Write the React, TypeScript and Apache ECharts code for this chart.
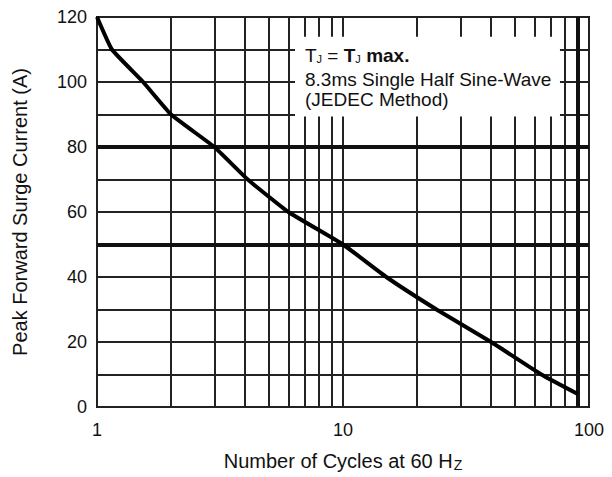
import React, { useEffect, useRef } from "react";
import * as echarts from "echarts";

// Curve (cycles at 60 Hz -> peak forward surge current, A)
const cycles = [1, 1.15, 1.54, 2, 3, 4.1, 6, 10, 15, 24, 40, 64, 90];
const current = [120, 110, 100, 90, 80, 70, 60, 50, 40, 30, 20, 10, 4];

// Grid lines
const minorX = [2, 3, 4, 5, 6, 7, 8, 9, 20, 30, 40, 50, 60, 70, 80];
const thickX = [90];
const thickY = [80, 50];

// Axis settings
const yMin = 0;
const yMax = 120;
const yStep = 10;
const yLabelStep = 20;
const xMin = 1;
const xMax = 100;

// Notes box (data coordinates)
const boxX = [6.38, 76.2];
const boxY = [89.4, 113.9];

const FONT = "'Liberation Sans', Arial, Helvetica, sans-serif";
const INK = "#111";

export default function App() {
  const ref = useRef<HTMLDivElement>(null);
  useEffect(() => {
    document.body.style.margin = "0";
    const chart = echarts.init(ref.current!, null, { renderer: "svg" });
    const gridLine = { color: "#222", width: 2, type: "solid" as const };
    const thickLine = { color: "#111", width: 4, type: "solid" as const };
    chart.setOption({
      animation: false,
      backgroundColor: "#ffffff",
      grid: {
        left: 97,
        right: 23,
        top: 17,
        bottom: 64,
        show: true,
        borderColor: INK,
        borderWidth: 2,
        containLabel: false,
      },
      xAxis: {
        type: "log",
        logBase: 10,
        min: xMin,
        max: xMax,
        name: "Number of Cycles at 60 H{s|Z}",
        nameLocation: "middle",
        nameGap: 43,
        nameTextStyle: {
          fontFamily: FONT,
          fontSize: 20,
          color: INK,
          rich: {
            s: { fontFamily: FONT, fontSize: 14, color: INK, padding: [8, 0, 0, 1] },
          },
        },
        axisLine: { show: false },
        axisTick: { show: false },
        axisLabel: { fontFamily: FONT, fontSize: 18, color: INK, margin: 14 },
        splitLine: { show: true, lineStyle: gridLine },
        minorTick: { show: false },
        minorSplitLine: { show: false },
      },
      yAxis: {
        type: "value",
        min: yMin,
        max: yMax,
        interval: yStep,
        name: "Peak Forward Surge Current (A)",
        nameLocation: "middle",
        nameGap: 67,
        nameRotate: 90,
        nameTextStyle: { fontFamily: FONT, fontSize: 20, color: INK },
        axisLine: { show: false },
        axisTick: { show: false },
        axisLabel: {
          fontFamily: FONT,
          fontSize: 18,
          color: INK,
          margin: 10,
          formatter: (v: number) => (v % yLabelStep === 0 ? String(v) : ""),
        },
        splitLine: { show: true, lineStyle: gridLine },
      },
      series: [
        {
          name: "grid",
          type: "line",
          z: 1,
          silent: true,
          data: [],
          markLine: {
            z: 1,
            silent: true,
            symbol: ["none", "none"],
            label: { show: false },
            animation: false,
            data: [
              ...minorX.map((x) => ({ xAxis: x, lineStyle: gridLine })),
              ...thickX.map((x) => ({ xAxis: x, lineStyle: thickLine })),
              ...thickY.map((y) => ({ yAxis: y, lineStyle: thickLine })),
            ],
          },
        },
        {
          name: "IFSM",
          type: "line",
          z: 5,
          data: cycles.map((c, i) => [c, current[i]]),
          showSymbol: false,
          symbol: "none",
          smooth: 0.12,
          lineStyle: { color: "#000", width: 4 },
          markArea: {
            z: 3,
            silent: true,
            animation: false,
            itemStyle: { color: "#ffffff", opacity: 1, borderWidth: 0 },
            label: { show: false },
            data: [[{ coord: [boxX[0], boxY[1]] }, { coord: [boxX[1], boxY[0]] }]],
          },
        },
      ],
    });

    const p1 = chart.convertToPixel({ gridIndex: 0 }, [boxX[0], boxY[1]]) as number[];
    const tx = p1[0] + 10;
    const ty = p1[1];
    chart.setOption({
      graphic: [
        {
          type: "text",
          x: tx,
          y: ty + 9,
          z: 10,
          style: {
            text: "{t|T}{s|J} = {b|T}{s|J} {b|max.}",
            fill: INK,
            rich: {
              t: { fontFamily: FONT, fontSize: 19, fill: INK },
              b: { fontFamily: FONT, fontSize: 19, fontWeight: "bold", fill: INK },
              s: { fontFamily: FONT, fontSize: 11, fill: INK, padding: [7, 0, 0, 0] },
            },
            fontFamily: FONT,
            fontSize: 19,
          },
        },
        {
          type: "text",
          x: tx,
          y: ty + 33,
          z: 10,
          style: {
            text: "8.3ms Single Half Sine-Wave",
            fill: INK,
            fontFamily: FONT,
            fontSize: 19,
          },
        },
        {
          type: "text",
          x: tx,
          y: ty + 53,
          z: 10,
          style: {
            text: "(JEDEC Method)",
            fill: INK,
            fontFamily: FONT,
            fontSize: 19,
          },
        },
      ],
    });
    return () => chart.dispose();
  }, []);
  return <div ref={ref} style={{ width: 612, height: 477 }} />;
}
